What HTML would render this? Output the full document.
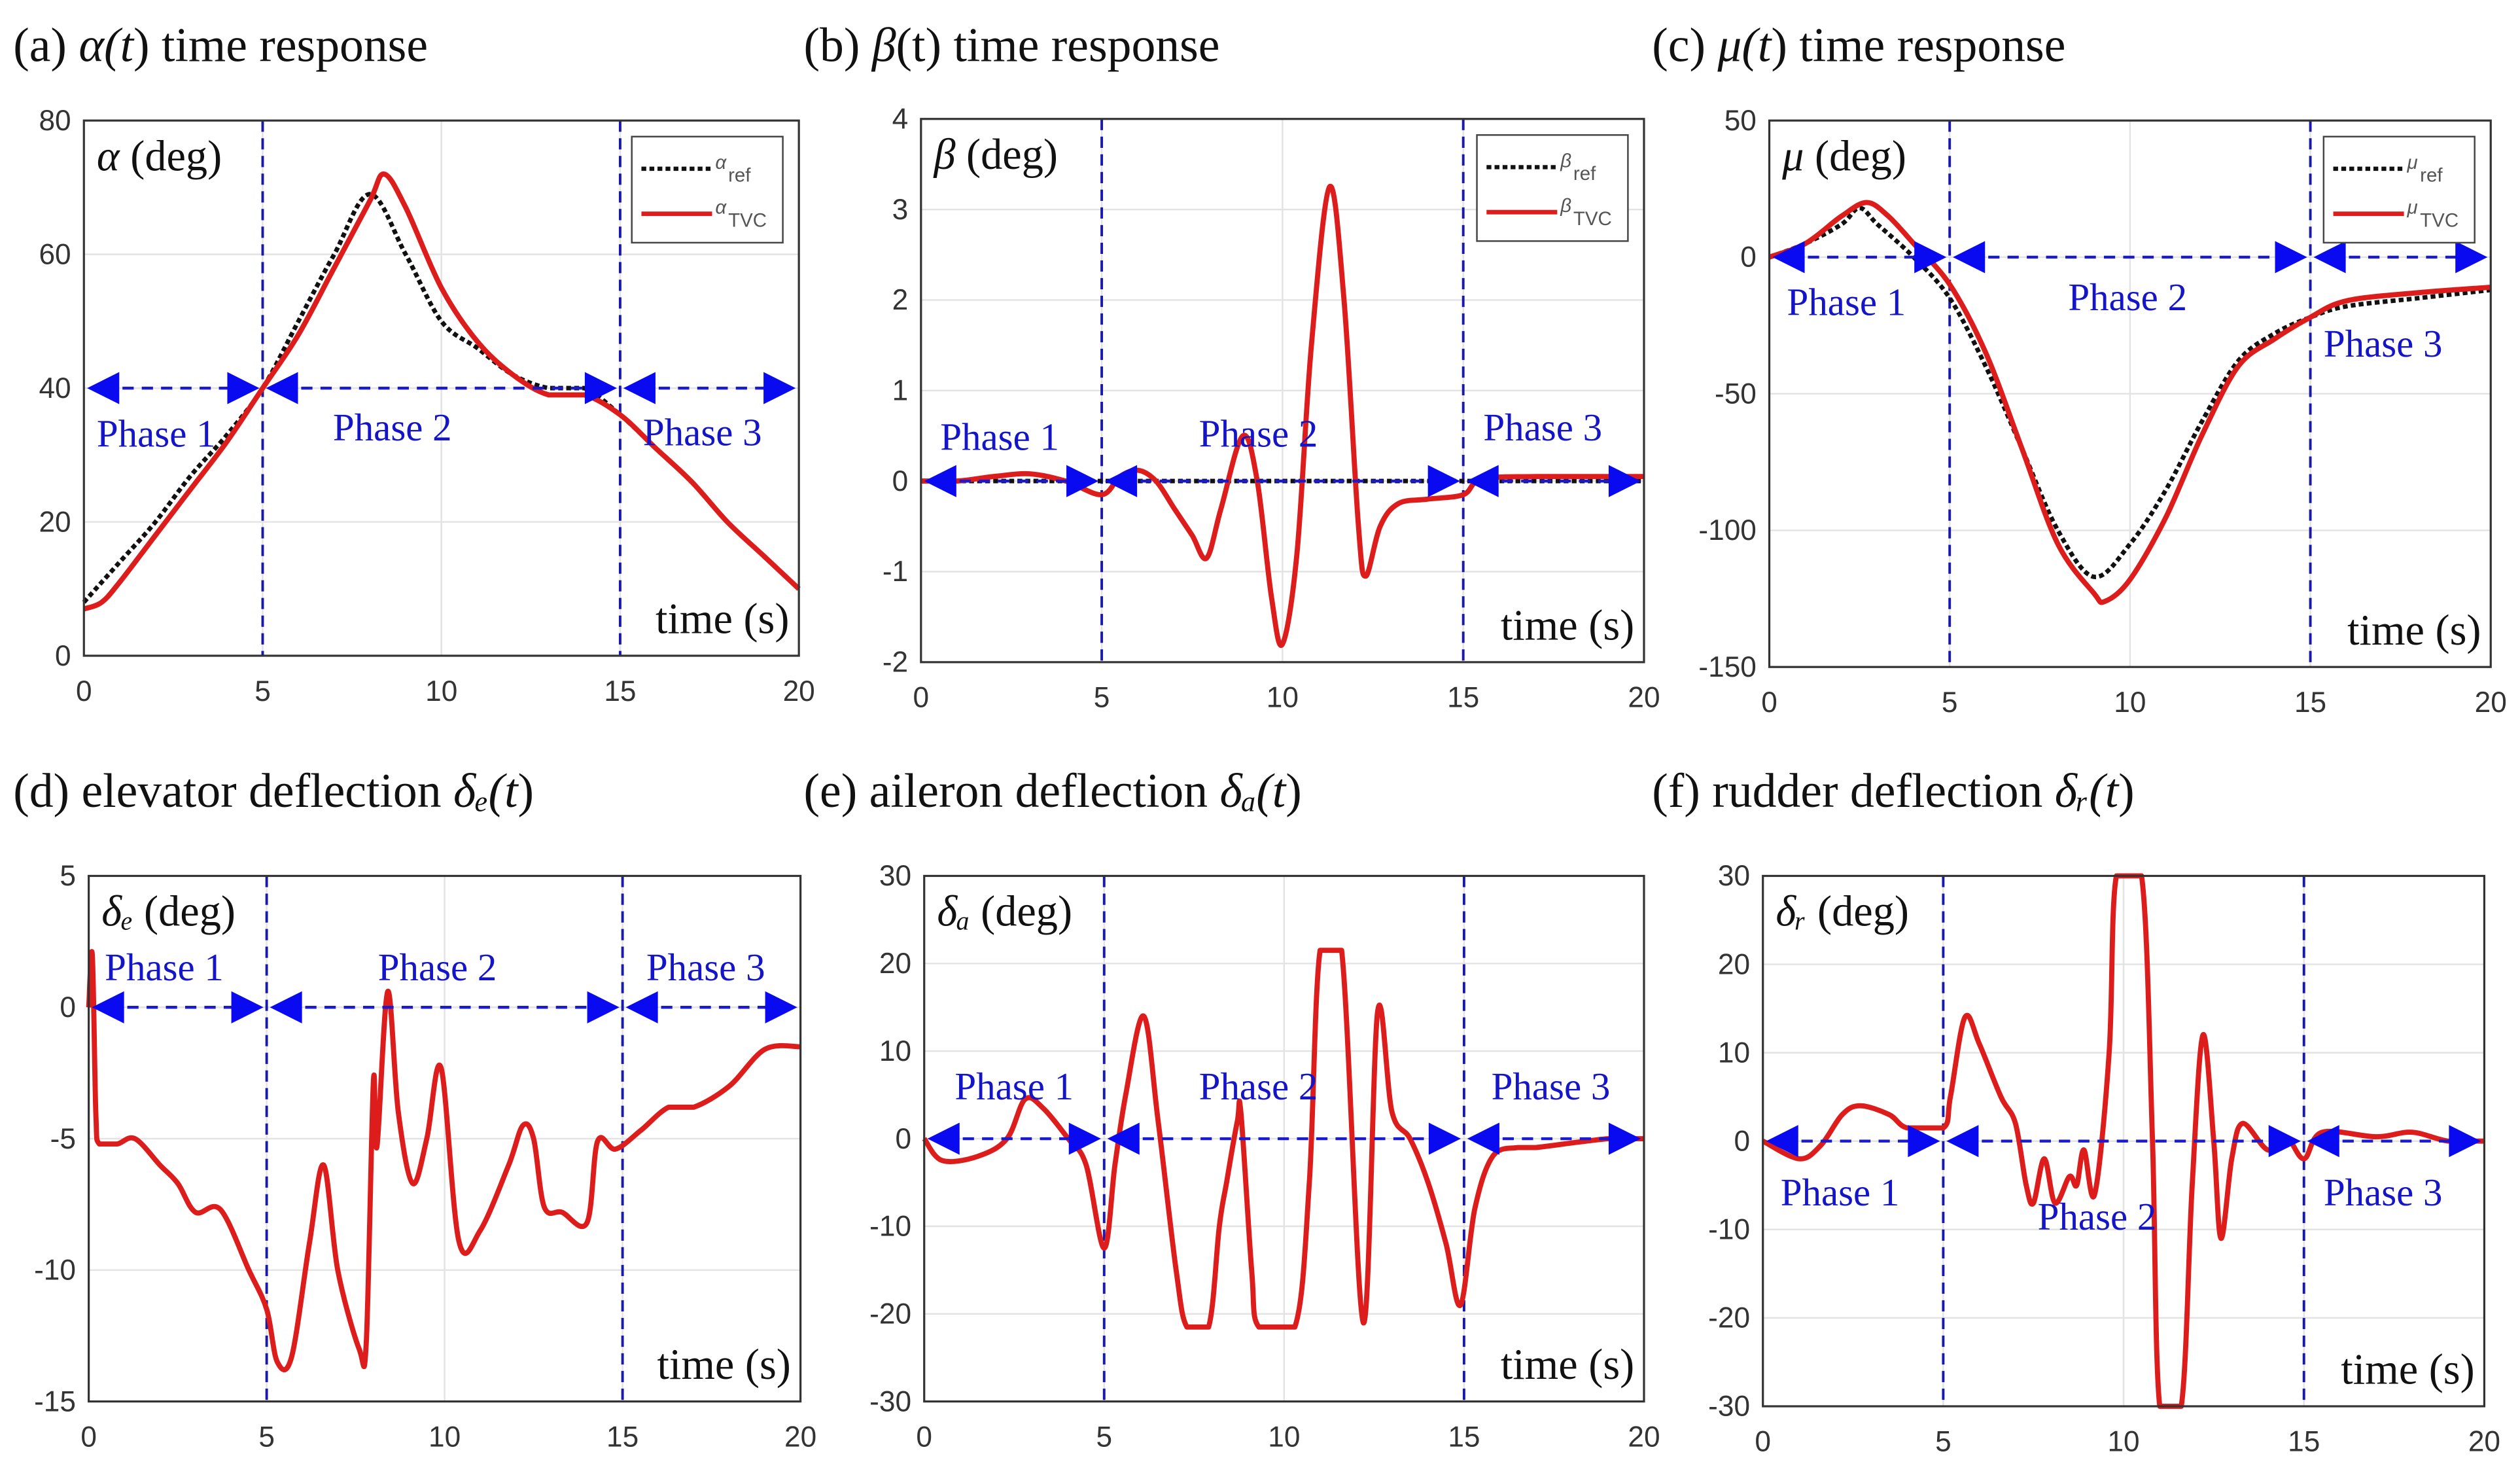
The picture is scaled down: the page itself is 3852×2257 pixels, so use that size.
<!DOCTYPE html>
<html><head><meta charset="utf-8"><style>
html,body{margin:0;padding:0;background:#fff}
svg{display:block}
.tick{font-family:"Liberation Sans",sans-serif;font-size:18px;fill:#333}
.ttl{font-family:"Liberation Serif",serif;font-size:30px;fill:#111}
.ph{font-family:"Liberation Serif",serif;font-size:24px;fill:#1414c8}
.lab{font-family:"Liberation Serif",serif;font-size:27px;fill:#111}
.leg{font-family:"Liberation Sans",sans-serif;font-size:12px;fill:#555}
.it{font-style:italic}
</style></head><body>
<svg id="fig" width="3852" height="2257" viewBox="0 0 1568 919" xmlns="http://www.w3.org/2000/svg"></svg>
<script>
// ---- data (time, value) ----
const aRefT=[0,1,2,3,4,5,6,7,8,9,10,11,12,13,14,15,16,17,18,19,20];
const aRefV=[8,14,20,27,33,40,50,60,69,60,50,46,42,40,40,36,31,26,20,15,10];
const aTvcT=[0,0.5,1,2,3,4,5,6,7,8,8.4,9,10,11,12,13,14,15,16,17,18,19,20];
const aTvcV=[7,8,11,18,25,32,40,48,58,68,72,67,55,47,42,39,39,36,31,26,20,15,10];
const bRefT=[0,20];
const bRefV=[0,0];
const bTvcT=[0,1,2,3,4,5,5.5,6,6.5,7,7.5,7.9,8.3,8.9,9.3,9.7,10,10.4,10.8,11.3,11.7,12.1,12.3,12.7,13.2,14,15,15.5,17,20];
const bTvcV=[0,0,0.05,0.08,0,-0.15,0.05,0.12,0,-0.3,-0.6,-0.85,-0.3,0.5,0,-1.3,-1.8,-0.8,1.5,3.25,2,-0.5,-1.05,-0.5,-0.25,-0.2,-0.15,0.02,0.05,0.05];
const cRefT=[0,1,2,2.5,3,4,5,6,7,8,9,10,11,12,13,14,15,16,18,20];
const cRefV=[0,5,12,18,12,0,-15,-40,-70,-100,-117,-105,-85,-60,-38,-28,-22,-18,-15,-12];
const cTvcT=[0,1,2,2.7,3.3,4,5,6,7,8,9,9.3,10,11,12,13,14,15,16,18,20];
const cTvcV=[0,5,15,20,15,5,-10,-35,-70,-105,-123,-126,-118,-95,-65,-40,-30,-22,-16,-13,-11];
const dT=[0,0.1,0.2,0.3,0.8,1.3,2,2.5,3,3.7,4.5,5,5.3,5.7,6.2,6.6,7,7.6,7.8,8,8.1,8.4,8.7,9.1,9.5,9.9,10.4,11,11.8,12.2,12.5,12.8,13.3,14,14.3,14.8,15.5,16.3,17,18,19,20];
const dV=[0,2,-4,-5.2,-5.2,-5,-6,-6.7,-7.8,-7.7,-10,-11.5,-13.5,-13.3,-9,-6,-10,-13,-12.7,-2.8,-5.3,0.6,-4,-6.7,-5,-2.3,-8.9,-8.5,-6,-4.5,-5,-7.6,-7.8,-8.2,-5.1,-5.4,-4.7,-3.8,-3.8,-3,-1.6,-1.5];
const eT=[0,0.5,1.5,2.3,2.8,3.3,4,4.5,5,5.3,5.6,6.1,6.5,7,7.3,7.9,8.2,8.4,8.7,8.8,9.1,9.3,10.3,10.7,11,11.6,12.2,12.6,13,13.5,14,14.5,14.9,15.3,15.8,16.5,17,19,20];
const eV=[0,-2.5,-2,0,4.5,3.5,0,-3,-12.5,-3,5,14,2,-15,-21.5,-21.5,-10,-5,2,3,-15,-21.5,-21.5,-5,21.5,21.5,-21,14.5,3,0,-5,-12,-19,-8,-2,-1,-1,0,0];
const fT=[0,1,1.6,2.2,2.7,3.5,4,5,5.2,5.6,6,6.6,7,7.3,7.5,7.8,8.1,8.5,8.7,8.9,9.2,9.6,9.8,10.5,10.8,11,11.6,11.9,12.2,12.5,12.7,13,13.3,14,14.5,15,15.5,17,18,19,20];
const fV=[0,-2,-0.5,3,4,3,1.5,1.5,5,14,11,5,2,-5,-7,-2,-7,-4,-5,-1,-6,10,30,30,0,-30,-30,-5,12,0,-11,-2,2,-1,0.5,-2,1,0.5,1,0,0];
const xTicks=[0,5,10,15,20];
const aTicks=[0,20,40,60,80];
const bTicks=[-2,-1,0,1,2,3,4];
const cTicks=[-150,-100,-50,0,50];
const dTicks=[-15,-10,-5,0,5];
const eTicks=[-30,-20,-10,0,10,20,30];
const fTicks=[-30,-20,-10,0,10,20,30];

const NS="http://www.w3.org/2000/svg";
const svg=document.getElementById('fig');
function mk(tag,attrs,parent){const e=document.createElementNS(NS,tag);for(const k in attrs)e.setAttribute(k,attrs[k]);(parent||svg).appendChild(e);return e;}
function smooth(pts,ymin,ymax){
 let d='M'+pts[0][0].toFixed(1)+','+pts[0][1].toFixed(1);
 for(let i=0;i<pts.length-1;i++){
  const p0=pts[Math.max(0,i-1)],p1=pts[i],p2=pts[i+1],p3=pts[Math.min(pts.length-1,i+2)];
  const k=6;
  let c1y=p1[1]+(p2[1]-p0[1])/k, c2y=p2[1]-(p3[1]-p1[1])/k;
  if(p1[1]===p2[1]){c1y=p1[1];c2y=p2[1];}
  c1y=Math.min(ymax,Math.max(ymin,c1y));c2y=Math.min(ymax,Math.max(ymin,c2y));
  const c1x=p1[0]+(p2[0]-p0[0])/k, c2x=p2[0]-(p3[0]-p1[0])/k;
  d+=`C${c1x.toFixed(1)},${c1y.toFixed(1)} ${c2x.toFixed(1)},${c2y.toFixed(1)} ${p2[0].toFixed(1)},${p2[1].toFixed(1)}`;
 }
 return d;
}

const panels=[
 {id:'a',x0:52,x1:497,y0:75,y1:408,ymin:0,ymax:80,ticks:aTicks,title:['(a) ','α(','t',') time response'],tx:8,ty:38,ylab:['α',' (deg)'],arrowY:40,
  series:[[aRefT,aRefV,'ref'],[aTvcT,aTvcV,'tvc']],leg:['α','ref','TVC'],
  ph:[[60,278],[207,274],[400,277]]},
 {id:'b',x0:573,x1:1023,y0:74,y1:412,ymin:-2,ymax:4,ticks:bTicks,title:['(b) ','β','','(t) time response'],tx:500,ty:38,ylab:['β',' (deg)'],arrowY:0,
  series:[[bRefT,bRefV,'ref'],[bTvcT,bTvcV,'tvc']],leg:['β','ref','TVC'],
  ph:[[585,280],[746,278],[923,274]]},
 {id:'c',x0:1101,x1:1550,y0:75,y1:415,ymin:-150,ymax:50,ticks:cTicks,title:['(c) ','μ(','t',') time response'],tx:1028,ty:38,ylab:['μ',' (deg)'],arrowY:0,
  series:[[cRefT,cRefV,'ref'],[cTvcT,cTvcV,'tvc']],leg:['μ','ref','TVC'],
  ph:[[1112,196],[1287,193],[1446,222]]},
 {id:'d',x0:55,x1:498,y0:545,y1:872,ymin:-15,ymax:5,ticks:dTicks,title:['(d) elevator deflection ','δₑ(','t',')'],tx:8,ty:502,ylab:['δₑ',' (deg)'],arrowY:0,
  series:[[dT,dV,'tvc']],ph:[[65,610],[235,610],[402,610]]},
 {id:'e',x0:575,x1:1023,y0:545,y1:872,ymin:-30,ymax:30,ticks:eTicks,title:['(e) aileron deflection ','δₐ(','t',')'],tx:500,ty:502,ylab:['δₐ',' (deg)'],arrowY:0,
  series:[[eT,eV,'tvc']],ph:[[594,684],[746,684],[928,684]]},
 {id:'f',x0:1097,x1:1546,y0:545,y1:875,ymin:-30,ymax:30,ticks:fTicks,title:['(f) rudder deflection ','δᵣ(','t',')'],tx:1028,ty:502,ylab:['δᵣ',' (deg)'],arrowY:0,
  series:[[fT,fV,'tvc']],ph:[[1108,750],[1268,765],[1446,750]]}
];

panels.forEach(p=>{
 const g=mk('g',{});
 
 
 const X=t=>p.x0+(t-0)/20*(p.x1-p.x0);
 const Y=v=>p.y1-(v-p.ymin)/(p.ymax-p.ymin)*(p.y1-p.y0);
 const t=mk('text',{x:p.tx,y:p.ty,class:'ttl'},g);
 
 
 p.title.forEach((s,i)=>{const ts=mk('tspan',{},t);if(i===1||i===2)ts.setAttribute('class','it');ts.textContent=s;});
 xTicks.forEach(v=>{
  mk('line',{x1:X(v),x2:X(v),y1:p.y0,y2:p.y1,stroke:'#e3e3e3','stroke-width':1},g);
  const l=mk('text',{x:X(v),y:p.y1+28,class:'tick','text-anchor':'middle'},g);l.textContent=v;
  
  
 });
 p.ticks.forEach(v=>{
  mk('line',{x1:p.x0,x2:p.x1,y1:Y(v),y2:Y(v),stroke:'#e3e3e3','stroke-width':1},g);
  const l=mk('text',{x:p.x0-8,y:Y(v)+6,class:'tick','text-anchor':'end'},g);l.textContent=v;
  
  
 });
 [5,15].forEach(v=>{
  const l=mk('line',{x1:X(v),x2:X(v),y1:p.y0,y2:p.y1,stroke:'#1a1aaa','stroke-width':1.6,'stroke-dasharray':'7,4'},g);
  
  
 });
 p.series.forEach(s=>{
  const pts=s[0].map((tt,i)=>[X(tt),Y(s[1][i])]);
  const isRef=s[2]==='ref';
  const pa=mk('path',{d:smooth(pts,p.y0,p.y1),fill:'none',stroke:isRef?'#111':'#dd1c1c','stroke-width':isRef?2.8:3.2,'stroke-dasharray':isRef?'3,2':'none','stroke-linejoin':'round'},g);
  
  
 });
 const ay=Y(p.arrowY);
 [[0,5],[5,15],[15,20]].forEach(seg=>{
  const xa=X(seg[0])+2,xb=X(seg[1])-2;
  mk('line',{x1:xa+10,x2:xb-10,y1:ay,y2:ay,stroke:'#1a1ad0','stroke-width':1.8,'stroke-dasharray':'7,5'},g);
  const ar=mk('path',{d:`M${xa},${ay}L${xa+20},${ay-10}L${xa+20},${ay+10}Z M${xb},${ay}L${xb-20},${ay-10}L${xb-20},${ay+10}Z`,fill:'#0a0af0'},g);
  
  
 });
 p.ph.forEach((q,i)=>{
  const l=mk('text',{x:q[0],y:q[1],class:'ph'},g);l.textContent='Phase '+(i+1);
  
  
 });
 mk('rect',{x:p.x0,y:p.y0,width:p.x1-p.x0,height:p.y1-p.y0,fill:'none',stroke:'#333','stroke-width':1.3},g);
 const yl=mk('text',{x:p.x0+8,y:p.y0+31,class:'lab'},g);
 
 
 const y1s=mk('tspan',{class:'it'},yl);y1s.textContent=p.ylab[0];
 const y2s=mk('tspan',{},yl);y2s.textContent=p.ylab[1];
 const xl=mk('text',{x:p.x1-6,y:p.y1-14,class:'lab','text-anchor':'end'},g);xl.textContent='time (s)';
 
 
 if(p.leg){
  const lx=p.x1-104,ly=p.y0+10;
  const lg=mk('g',{},g);
  
  
  mk('rect',{x:lx,y:ly,width:94,height:66,fill:'#fff',stroke:'#444','stroke-width':1},lg);
  mk('line',{x1:lx+6,x2:lx+50,y1:ly+20,y2:ly+20,stroke:'#111','stroke-width':2.6,'stroke-dasharray':'3,2'},lg);
  mk('line',{x1:lx+6,x2:lx+50,y1:ly+48,y2:ly+48,stroke:'#dd1c1c','stroke-width':2.8},lg);
  const t1=mk('text',{x:lx+52,y:ly+20,class:'leg it'},lg);t1.textContent=p.leg[0];
  const s1=mk('text',{x:lx+60,y:ly+28,class:'leg'},lg);s1.textContent=p.leg[1];
  const t2=mk('text',{x:lx+52,y:ly+48,class:'leg it'},lg);t2.textContent=p.leg[0];
  const s2=mk('text',{x:lx+60,y:ly+56,class:'leg'},lg);s2.textContent=p.leg[2];
 }
});
</script>
</body></html>
